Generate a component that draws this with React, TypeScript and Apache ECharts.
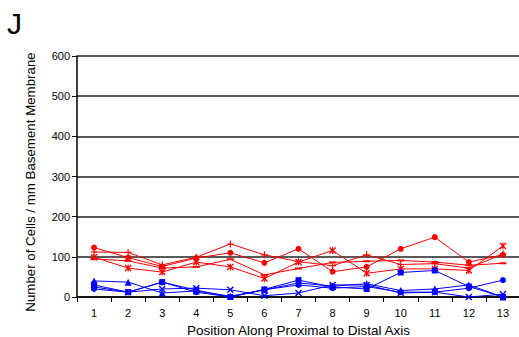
import React, { useEffect, useRef } from "react";
import * as echarts from "echarts";

// Positions along the proximal–distal axis
const positions = ["1", "2", "3", "4", "5", "6", "7", "8", "9", "10", "11", "12", "13"];

// Red group
const redCircle = [123, 98, 76, 97, 110, 85, 120, 63, 75, 120, 149, 87, 105];
const redPlus = [112, 111, 80, 99, 132, 105, 88, 78, 105, 81, 83, 72, 107];
const redDash = [95, 90, 72, 75, 94, 55, 71, 86, 89, 91, 87, 79, 84];
const redStar = [99, 72, 62, 87, 75, 46, 87, 116, 59, 70, 70, 66, 127];

// Blue group
const blueTriangle = [40, 37, 10, 15, 2, 18, 35, 27, 33, 16, 20, 30, 0];
const blueSquare = [25, 12, 37, 17, 0, 19, 42, 25, 20, 61, 66, 26, 0];
const blueCross = [30, 12, 20, 22, 18, 3, 10, 30, 30, 10, 12, 0, 7];
const blueCircle = [20, 12, 37, 12, 0, 18, 30, 22, 26, 12, 12, 22, 42];

const yTicks = [0, 100, 200, 300, 400, 500, 600];

const X_SYMBOL =
  "path://M0,1.4L1.4,0L5,3.6L8.6,0L10,1.4L6.4,5L10,8.6L8.6,10L5,6.4L1.4,10L0,8.6L3.6,5Z";
const STAR_SYMBOL =
  "path://M0,1.4L1.4,0L5,3.6L8.6,0L10,1.4L6.4,5L10,8.6L8.6,10L5,6.4L1.4,10L0,8.6L3.6,5ZM4.2,0H5.8V10H4.2Z";
const PLUS_SYMBOL = "path://M4.2,0H5.8V4.2H10V5.8H5.8V10H4.2V5.8H0V4.2H4.2Z";
const DASH_SYMBOL = "path://M0,0H10V2H0Z";

const RED = "#FF0000";
const BLUE = "#0000FF";
const FONT = "Liberation Sans, Arial, sans-serif";

function makeSeries(name: string, data: number[], color: string, symbol: string, size: number | number[]) {
  return {
    name,
    type: "line",
    data,
    symbol,
    symbolSize: size,
    lineStyle: { color, width: 1 },
    itemStyle: { color },
    z: 3,
  };
}

export default function App() {
  const ref = useRef<HTMLDivElement>(null);

  useEffect(() => {
    if (!ref.current) return;
    const chart = echarts.init(ref.current, null, { renderer: "svg" });
    chart.setOption({
      animation: false,
      backgroundColor: "#ffffff",
      textStyle: { fontFamily: FONT },
      graphic: [
        {
          type: "text",
          left: 7,
          top: 8,
          style: { text: "J", fontSize: 30, fill: "#000", fontFamily: FONT },
        },
        {
          // rotated y-axis title, sitting slightly below the axis midpoint
          type: "text",
          x: 30,
          y: 182,
          rotation: Math.PI / 2,
          style: {
            text: "Number of Cells / mm Basement Membrane",
            fontSize: 13.3,
            fill: "#000",
            fontFamily: FONT,
            align: "center",
            verticalAlign: "middle",
          },
        },
      ],
      grid: { left: 77, right: -1, top: 56, bottom: 40, outerBoundsMode: "none", containLabel: false },
      xAxis: {
        type: "category",
        data: positions,
        boundaryGap: true,
        name: "Position Along Proximal to Distal Axis",
        nameLocation: "middle",
        nameGap: 26,
        nameTextStyle: { fontSize: 13.5, color: "#000" },
        axisLine: { lineStyle: { color: "#000", width: 1.5 } },
        axisTick: { show: true, length: 5, lineStyle: { color: "#000" } },
        axisLabel: { fontSize: 11, color: "#000", margin: 10 },
      },
      yAxis: {
        type: "value",
        min: 0,
        max: 600,
        interval: 100,
        axisLine: { show: true, lineStyle: { color: "#000", width: 1.5 } },
        axisTick: { show: true, length: 5, lineStyle: { color: "#000" } },
        axisLabel: {
          fontSize: 11,
          color: "#000",
          margin: 7,
          formatter: (v: number) => (yTicks.includes(v) ? String(v) : ""),
        },
        splitLine: { lineStyle: { color: "#222", width: 1.5 } },
      },
      series: [
        makeSeries("red-circle", redCircle, RED, "circle", 6),
        makeSeries("red-plus", redPlus, RED, PLUS_SYMBOL, 7),
        makeSeries("red-dash", redDash, RED, DASH_SYMBOL, [7, 2]),
        makeSeries("red-star", redStar, RED, STAR_SYMBOL, 7),
        makeSeries("blue-triangle", blueTriangle, BLUE, "triangle", 7),
        makeSeries("blue-square", blueSquare, BLUE, "rect", 6),
        makeSeries("blue-cross", blueCross, BLUE, X_SYMBOL, 7),
        makeSeries("blue-circle", blueCircle, BLUE, "circle", 6),
      ],
    });
    return () => chart.dispose();
  }, []);

  return (
    <div
      ref={ref}
      style={{ position: "fixed", left: 0, top: 0, width: 519, height: 337 }}
    />
  );
}
